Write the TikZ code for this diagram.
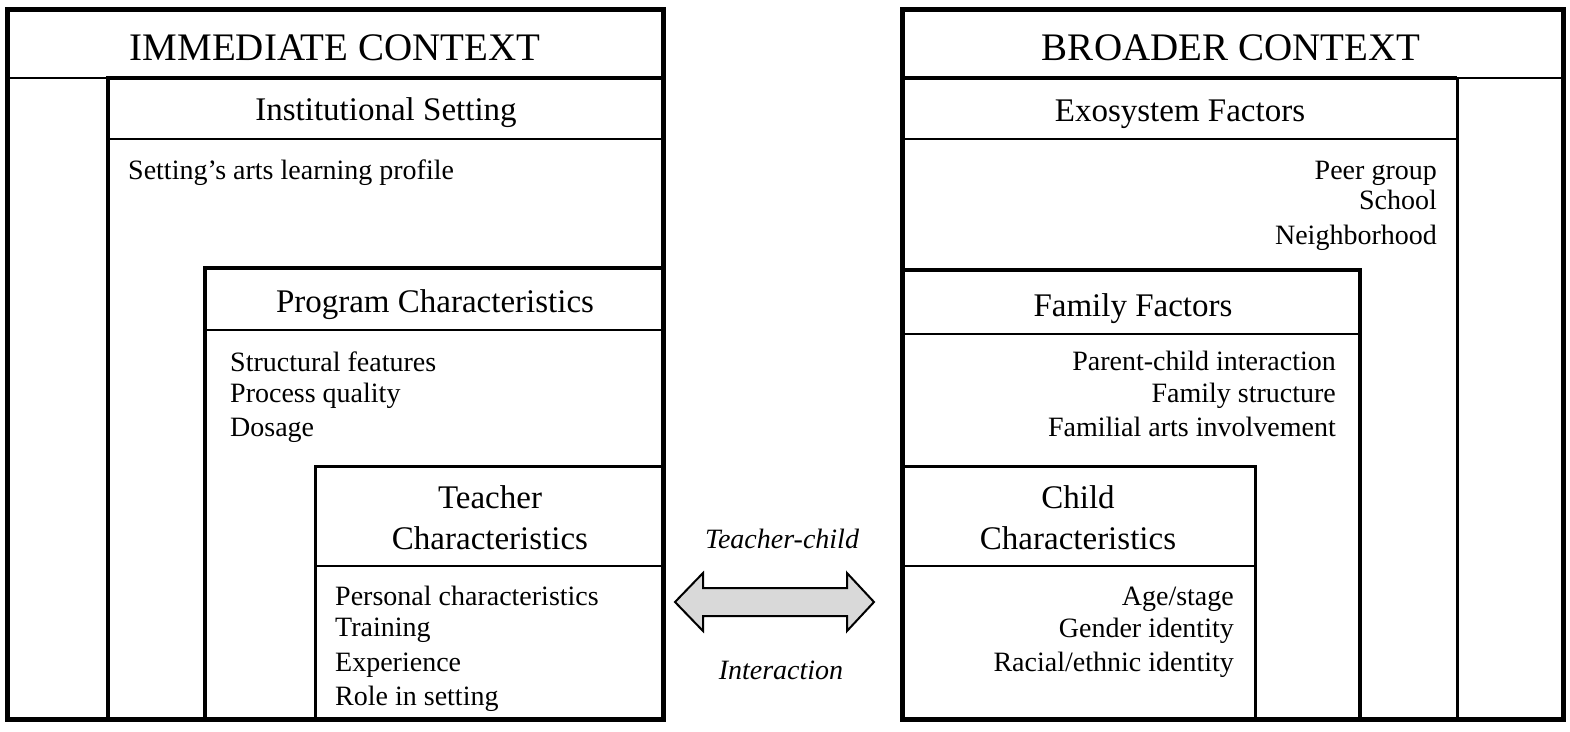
\documentclass[tikz,border=0pt]{standalone}
\usepackage{fontspec}
\setmainfont{Liberation Serif}

\begin{document}
\begin{tikzpicture}[x=1pt, y=-1pt]
	\tikzstyle{title} = [font=\fontsize{39}{39}\selectfont, inner sep=0]
	\tikzstyle{head} = [font=\fontsize{33}{33}\selectfont, inner sep=0]
	\tikzstyle{item} = [font=\fontsize{28}{28}\selectfont, inner sep=0]
	\tikzstyle{talk} = [font=\itshape\fontsize{28}{28}\selectfont, inner sep=0]
	\tikzstyle{frame} = [line width=5pt]
	\tikzstyle{box} = [line width=4pt]
	\tikzstyle{thinbox} = [line width=3pt]
	\tikzstyle{rule} = [line width=1.8pt]
	\useasboundingbox (0,0) rectangle (1570,731);

	% immediate context
	\draw [box] (108,78) rectangle (663,719);
	\draw [box] (205,268) rectangle (663,719);
	\draw [thinbox] (315,466) rectangle (663,719);
	\draw [rule] (8,78)--(108,78);
	\draw [rule] (108,139)--(663,139);
	\draw [rule] (205,330)--(663,330);
	\draw [rule] (315,566)--(663,566);
	\draw [frame] (7,9) rectangle (663,719);
	\node [title, anchor=base] (Immediate) at (335,60) {IMMEDIATE CONTEXT};
	\node [head, anchor=base] (Institutional) at (386,120) {Institutional Setting};
	\node [item, anchor=base west] (Profile) at (128,179) {Setting’s arts learning profile};
	\node [head, anchor=base] (Program) at (435,312) {Program Characteristics};
	\node [item, anchor=base west] (Structural) at (230,371) {Structural features};
	\node [item, anchor=base west] (Process) at (230,402) {Process quality};
	\node [item, anchor=base west] (Dosage) at (230,436) {Dosage};
	\node [head, anchor=base] (Teacher) at (490,508) {Teacher};
	\node [head, anchor=base] (TeacherChar) at (490,549) {Characteristics};
	\node [item, anchor=base west] (Personal) at (335,605) {Personal characteristics};
	\node [item, anchor=base west] (Training) at (335,636) {Training};
	\node [item, anchor=base west] (Experience) at (335,671) {Experience};
	\node [item, anchor=base west] (Role) at (335,705) {Role in setting};

	% teacher-child interaction
	\draw [line width=2pt, fill=black!15] (675,602)--(703,573)--(703,588)--(847,588)--(847,573)--(874,602)
		--(847,631)--(847,616)--(703,616)--(703,631)--cycle;
	\node [talk, anchor=base] (TeacherChild) at (782,548) {Teacher-child};
	\node [talk, anchor=base] (Interaction) at (781,679) {Interaction};

	% broader context
	\draw [thinbox] (902,78) rectangle (1457,719);
	\draw [box] (902,78)--(1457,78);
	\draw [box] (902,270) rectangle (1360,719);
	\draw [thinbox] (902,466) rectangle (1255,719);
	\draw [rule] (1457,78)--(1563,78);
	\draw [rule] (902,139)--(1457,139);
	\draw [rule] (902,334)--(1360,334);
	\draw [rule] (902,566)--(1255,566);
	\draw [frame] (902,9) rectangle (1563,719);
	\node [title, anchor=base] (Broader) at (1231,60) {BROADER CONTEXT};
	\node [head, anchor=base] (Exosystem) at (1180,121) {Exosystem Factors};
	\node [item, anchor=base east] (Peer) at (1437,179) {Peer group};
	\node [item, anchor=base east] (School) at (1437,209) {School};
	\node [item, anchor=base east] (Neighborhood) at (1437,244) {Neighborhood};
	\node [head, anchor=base] (Family) at (1133,316) {Family Factors};
	\node [item, anchor=base east] (ParentChild) at (1336,370) {Parent-child interaction};
	\node [item, anchor=base east] (Structure) at (1336,402) {Family structure};
	\node [item, anchor=base east] (Familial) at (1336,436) {Familial arts involvement};
	\node [head, anchor=base] (Child) at (1078,508) {Child};
	\node [head, anchor=base] (ChildChar) at (1078,549) {Characteristics};
	\node [item, anchor=base east] (Age) at (1234,605) {Age/stage};
	\node [item, anchor=base east] (Gender) at (1234,637) {Gender identity};
	\node [item, anchor=base east] (Racial) at (1234,671) {Racial/ethnic identity};
\end{tikzpicture}
\end{document}
